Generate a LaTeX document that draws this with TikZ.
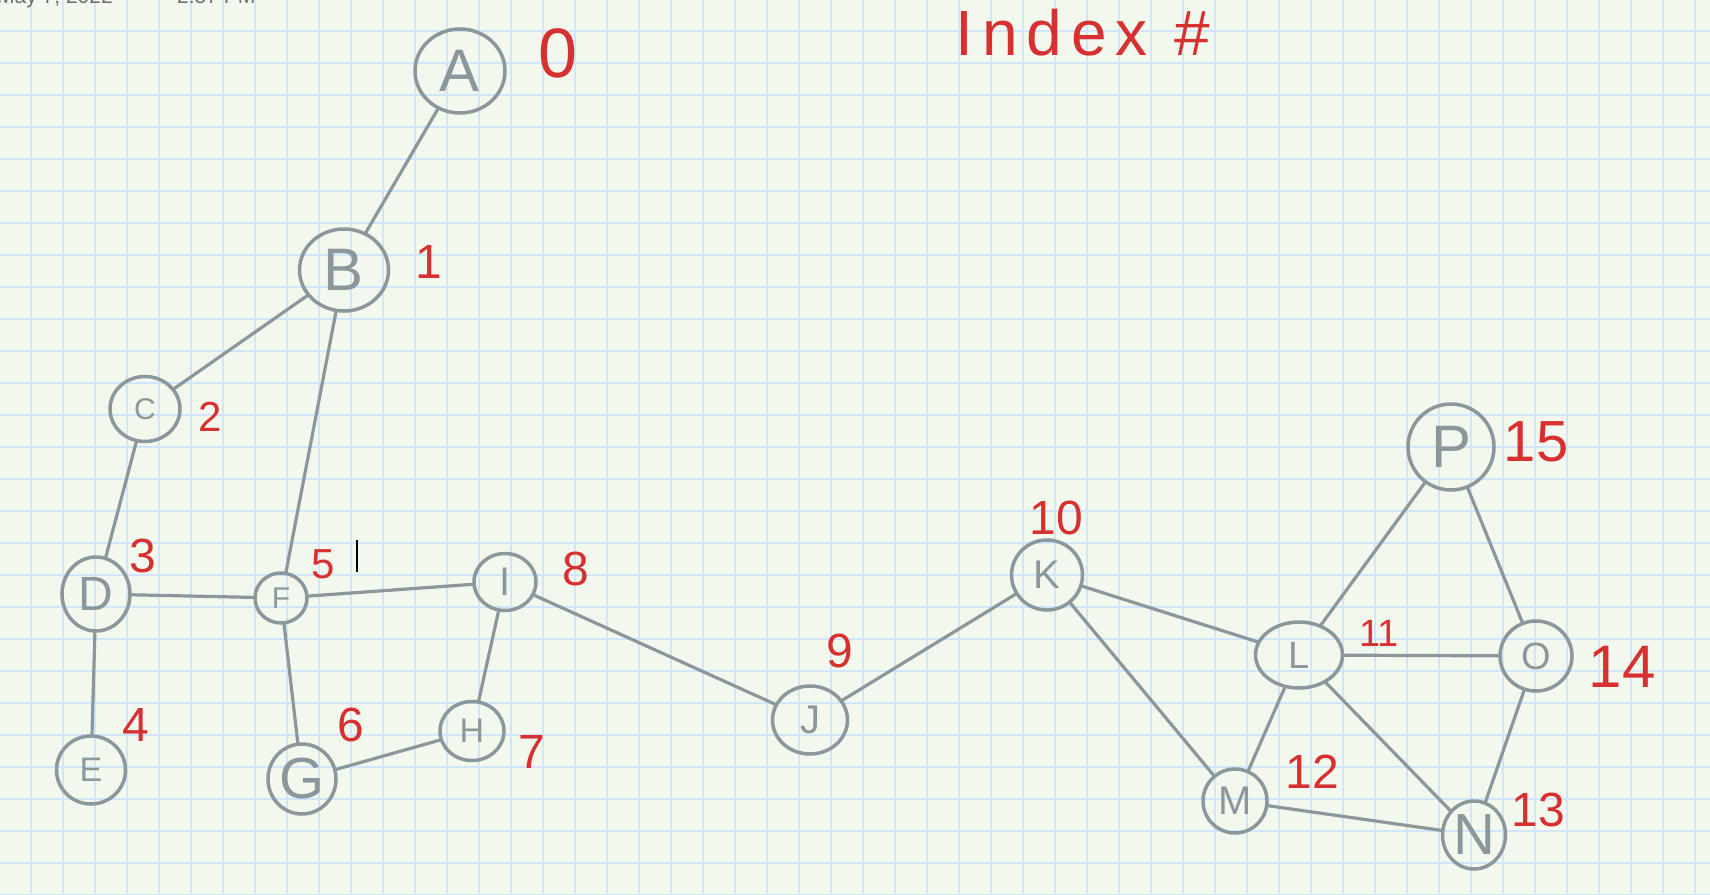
\documentclass[tikz,border=0pt]{standalone}
\usepackage{fontspec}
\setmainfont{Liberation Sans}
\usetikzlibrary{shapes.geometric}
\definecolor{paper}{RGB}{243,248,238}
\definecolor{gridblue}{RGB}{210,229,250}
\definecolor{ngray}{RGB}{140,151,156}
\definecolor{hred}{RGB}{214,48,48}
\definecolor{dgray}{RGB}{110,110,110}
\tikzset{
  nd/.style={draw=ngray, line width=3.5pt, ellipse, inner sep=0pt, text=ngray},
  edge/.style={draw=ngray, line width=3.2pt, line cap=round},
  idx/.style={text=hred, inner sep=0pt, font=\fontsize{48}{48}\selectfont},
  gridline/.style={draw=gridblue, line width=2.2pt}
}
\newcommand{\fs}[1]{\fontsize{#1}{#1}\selectfont}
\begin{document}
\begin{tikzpicture}[x=1pt,y=-1pt]
\fill[paper] (0,0) rectangle (1710,894);
\useasboundingbox (0,0) rectangle (1710,894);
\begin{scope}
\clip (0,0) rectangle (1710,894);
\foreach \i in {0,...,53} { \draw[gridline] (31+32*\i,0) -- (31+32*\i,894); }
\foreach \j in {0,...,27} { \draw[gridline] (0,31+32*\j) -- (1710,31+32*\j); }
\node[anchor=base east, text=dgray, font=\fs{21}, inner sep=0pt] (date) at (113,3) {May 7, 2022};
\node[anchor=base west, text=dgray, font=\fs{21}, inner sep=0pt] (time) at (177,3) {2:57 PM};
\end{scope}

% nodes
\node[nd, minimum width=90pt, minimum height=84pt, font=\fs{60}] (A) at (460,71) {A};
\node[nd, minimum width=89pt, minimum height=82pt, font=\fs{60}] (B) at (344,270) {B};
\node[nd, minimum width=70pt, minimum height=65pt, font=\fs{30}] (C) at (145,409) {C};
\node[nd, minimum width=68pt, minimum height=74pt, font=\fs{48}] (D) at (96,594) {D};
\node[nd, minimum width=69pt, minimum height=68pt, font=\fs{34}] (E) at (91,770) {E};
\node[nd, minimum width=52pt, minimum height=50pt, font=\fs{30}] (F) at (281,598) {F};
\node[nd, minimum width=68pt, minimum height=70pt, font=\fs{58}] (G) at (302,779) {G};
\node[nd, minimum width=64pt, minimum height=59pt, font=\fs{34}] (H) at (472,731) {H};
\node[nd, minimum width=62pt, minimum height=57pt, font=\fs{40}] (I) at (505,582) {I};
\node[nd, minimum width=75pt, minimum height=68pt, font=\fs{40}] (J) at (810,720) {J};
\node[nd, minimum width=71pt, minimum height=70pt, font=\fs{40}] (K) at (1047,575) {K};
\node[nd, minimum width=87pt, minimum height=66pt, font=\fs{38}] (L) at (1299,655) {L};
\node[nd, minimum width=64pt, minimum height=64pt, font=\fs{40}] (M) at (1235,801) {M};
\node[nd, minimum width=63pt, minimum height=68pt, font=\fs{58}] (N) at (1474,835) {N};
\node[nd, minimum width=72pt, minimum height=70pt, font=\fs{38}] (O) at (1536,656) {O};
\node[nd, minimum width=86pt, minimum height=86pt, font=\fs{60}] (P) at (1451,447) {P};

% edges
\draw[edge] (A) -- (B);
\draw[edge] (B) -- (C);
\draw[edge] (B) -- (F);
\draw[edge] (C) -- (D);
\draw[edge] (D) -- (E);
\draw[edge] (D) -- (F);
\draw[edge] (F) -- (I);
\draw[edge] (F) -- (G);
\draw[edge] (G) -- (H);
\draw[edge] (H) -- (I);
\draw[edge] (I) -- (J);
\draw[edge] (J) -- (K);
\draw[edge] (K) -- (L);
\draw[edge] (K) -- (M);
\draw[edge] (L) -- (P);
\draw[edge] (L) -- (O);
\draw[edge] (L) -- (M);
\draw[edge] (L) -- (N);
\draw[edge] (M) -- (N);
\draw[edge] (N) -- (O);
\draw[edge] (P) -- (O);

% index labels
\node[idx, font=\fs{70}] (l0) at (558,53) {0};
\node[idx] (l1) at (429,262) {1};
\node[idx, font=\fs{42}] (l2) at (210,417) {2};
\node[idx] (l3) at (143,556) {3};
\node[idx] (l4) at (136,725) {4};
\node[idx, font=\fs{42}] (l5) at (323,564) {5};
\node[idx] (l6) at (351,725) {6};
\node[idx] (l7) at (532,752) {7};
\node[idx] (l8) at (576,569) {8};
\node[idx] (l9) at (840,651) {9};
\node[idx] (l10) at (1056,518) {10};
\node[idx, font=\fs{38}] (l11) at (1379,633) {11};
\node[idx] (l12) at (1312,772) {12};
\node[idx] (l13) at (1538,810) {13};
\node[idx, font=\fs{60}] (l14) at (1622,667) {14};
\node[idx, font=\fs{58}] (l15) at (1536,442) {15};
\node[idx, font={\fs{64}\addfontfeature{LetterSpace=14}}] (title) at (1083,33) {Index \#};

% text cursor
\coordinate (cur1) at (357,540);
\coordinate (cur2) at (357,572);
\draw[black, line width=1.6pt] (cur1) -- (cur2);
\end{tikzpicture}
\end{document}
